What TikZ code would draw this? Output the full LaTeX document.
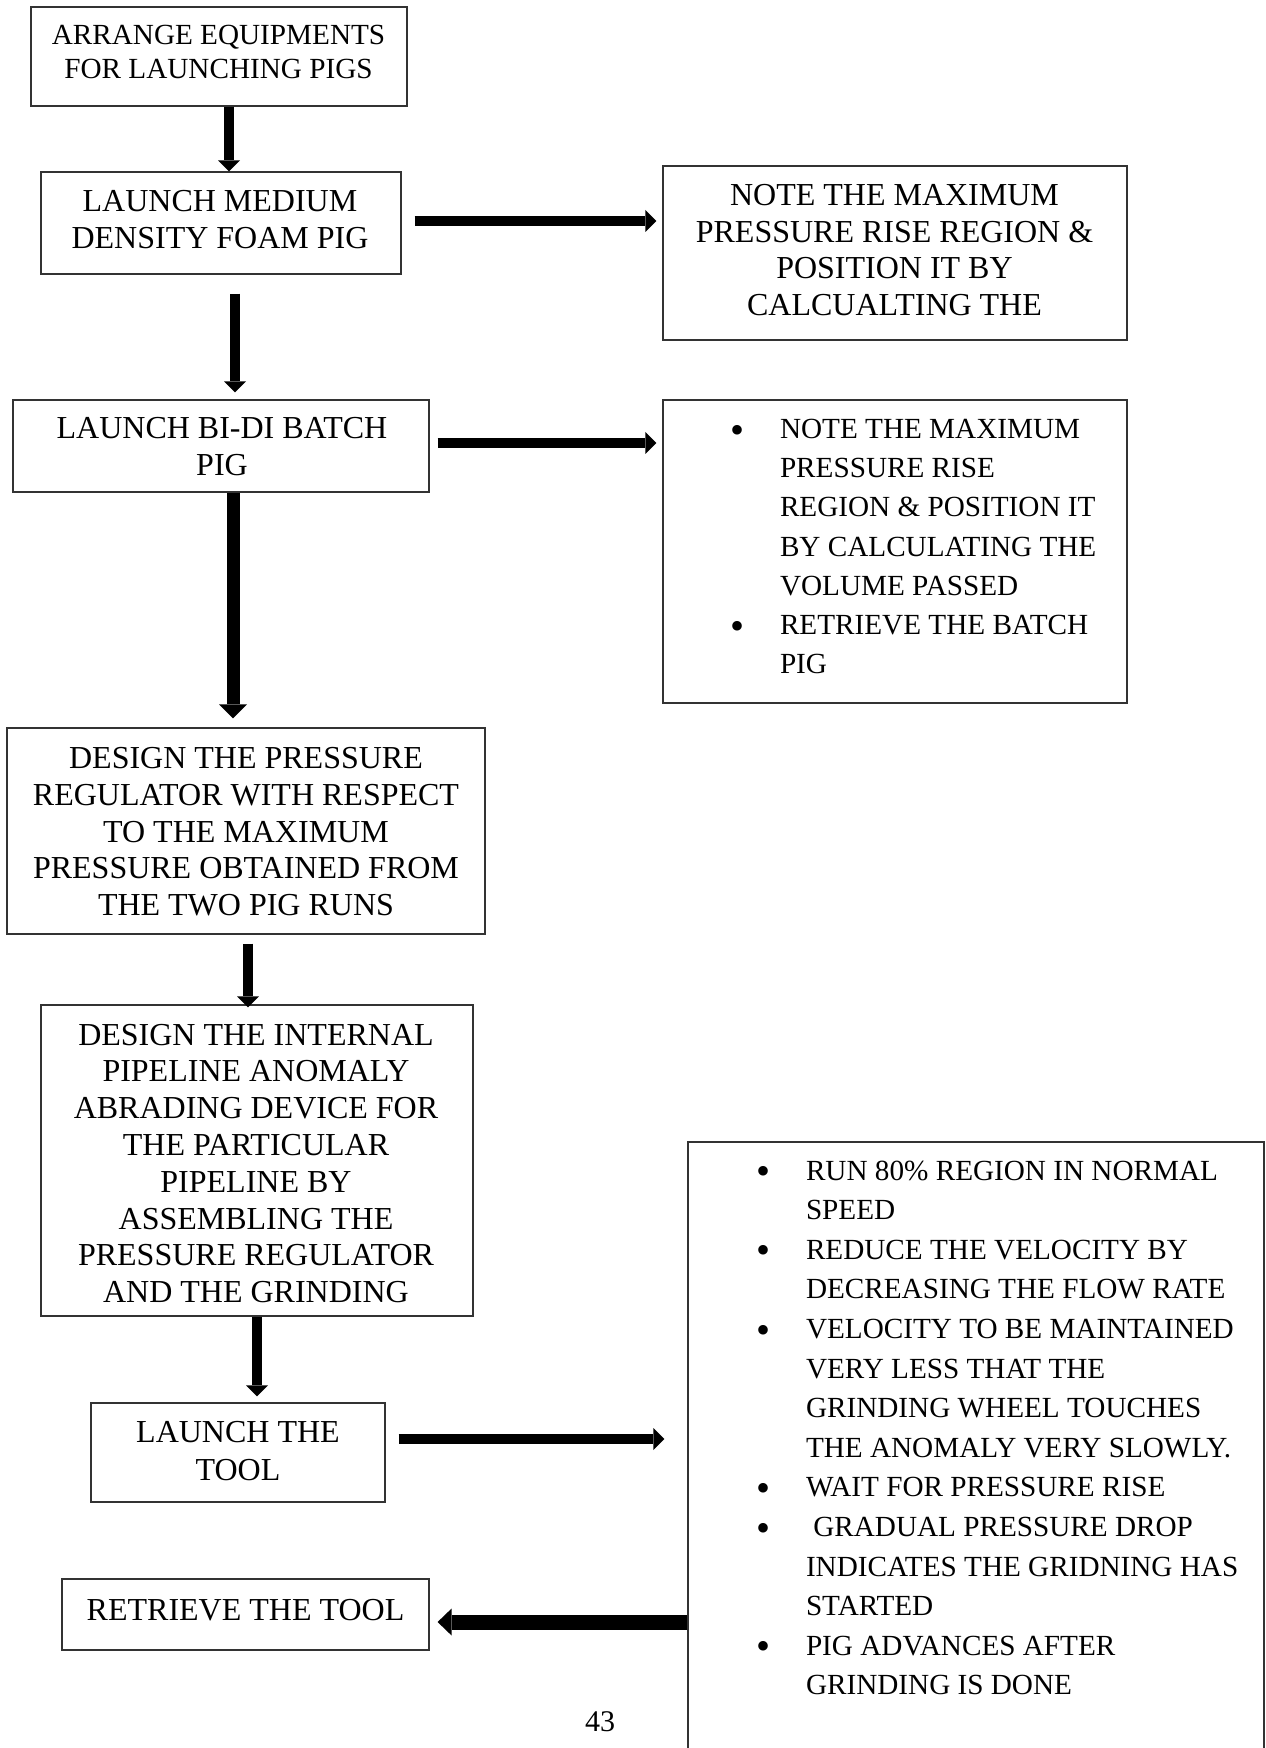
\documentclass[tikz,border=0pt]{standalone}
\usepackage{fontspec}
\setmainfont{Liberation Serif}
\usetikzlibrary{arrows.meta}
\newcommand{\mybul}{\raisebox{-2.3pt}{\fontsize{20}{20}\selectfont\textbullet}}
\newcommand{\mybi}{\makebox[24.8pt][l]{\mybul}}
\newcommand{\mylines}[1]{\begin{tabular}[t]{@{}c@{}}#1\end{tabular}}
\newcommand{\mylist}[1]{\begin{tabular}[t]{@{}l@{}l@{}}#1\end{tabular}}
\begin{document}
\begin{tikzpicture}[x=0.5pt,y=-0.5pt,
  box/.style={draw=black!80, line width=0.6pt, inner sep=0pt},
  txt/.style={inner sep=0pt, anchor=base, font=\fontsize{16}{18.4}\selectfont},
  lst/.style={inner sep=0pt, anchor=base west, font=\fontsize{14.6}{19.6}\selectfont},
  arr/.style={line width=5pt, -{Triangle[width=11pt,length=5.5pt,line width=0pt]}},
  arrm/.style={line width=6.5pt, -{Triangle[width=14pt,length=7pt,line width=0pt]}},
  arrb/.style={line width=7.5pt, -{Triangle[width=13.5pt,length=7pt,line width=0pt]}}]
\useasboundingbox (0,0) rectangle (1265,1748);

% boxes
\node[box, minimum width=188pt, minimum height=49.5pt] (b1) at (219,56.5) {};
\node[box, minimum width=180pt, minimum height=51pt] (b2) at (221,223) {};
\node[box, minimum width=232pt, minimum height=87pt] (b3) at (895,253) {};
\node[box, minimum width=208pt, minimum height=46pt] (b4) at (221,446) {};
\node[box, minimum width=232pt, minimum height=151.5pt] (b5) at (895,551.5) {};
\node[box, minimum width=239pt, minimum height=103pt] (b6) at (246,831) {};
\node[box, minimum width=216pt, minimum height=155.5pt] (b7) at (257,1160.5) {};
\node[box, minimum width=147pt, minimum height=49.5pt] (b8) at (238,1452.5) {};
\node[box, minimum width=183.5pt, minimum height=35.5pt] (b9) at (245.5,1614.5) {};
\node[box, minimum width=288pt, minimum height=329pt] (b10) at (976,1471) {};

% texts
\node[txt, font=\fontsize{14.6}{17}\selectfont] (t1) at (218.5,45) {\mylines{ARRANGE EQUIPMENTS\\FOR LAUNCHING PIGS}};
\node[txt, font=\fontsize{16}{18.3}\selectfont] (t2) at (220,211.7) {\mylines{LAUNCH MEDIUM\\DENSITY FOAM PIG}};
\node[txt] (t3) at (894.5,205.4) {\mylines{NOTE THE MAXIMUM\\PRESSURE RISE REGION \&\\POSITION IT BY\\CALCUALTING THE}};
\node[txt, font=\fontsize{16}{18.5}\selectfont] (t4) at (222,439) {\mylines{LAUNCH BI-DI BATCH\\PIG}};
\node[lst] (t5) at (730,438.6) {\mylist{\mybi & NOTE THE MAXIMUM\\
 & PRESSURE RISE\\
 & REGION \& POSITION IT\\
 & BY CALCULATING THE\\
 & VOLUME PASSED\\
 \mybi & RETRIEVE THE BATCH\\
 & PIG}};
\node[txt] (t6) at (246,768.5) {\mylines{DESIGN THE PRESSURE\\REGULATOR WITH RESPECT\\TO THE MAXIMUM\\PRESSURE OBTAINED FROM\\THE TWO PIG RUNS}};
\node[txt] (t7) at (256,1045) {\mylines{DESIGN THE INTERNAL\\PIPELINE ANOMALY\\ABRADING DEVICE FOR\\THE PARTICULAR\\PIPELINE BY\\ASSEMBLING THE\\PRESSURE REGULATOR\\AND THE GRINDING}};
\node[txt, font=\fontsize{16}{18.65}\selectfont] (t8) at (238,1442.7) {\mylines{LAUNCH THE\\TOOL}};
\node[txt] (t9) at (245.5,1620) {RETRIEVE THE TOOL};
\node[lst, font=\fontsize{14.6}{19.8}\selectfont] (t10) at (756,1180) {\mylist{\mybi & RUN 80\% REGION IN NORMAL\\
 & SPEED\\
 \mybi & REDUCE THE VELOCITY BY\\
 & DECREASING THE FLOW RATE\\
 \mybi & VELOCITY TO BE MAINTAINED\\
 & VERY LESS THAT THE\\
 & GRINDING WHEEL TOUCHES\\
 & THE ANOMALY VERY SLOWLY.\\
 \mybi & WAIT FOR PRESSURE RISE\\
 \mybi & \hspace*{0.25em}GRADUAL PRESSURE DROP\\
 & INDICATES THE GRIDNING HAS\\
 & STARTED\\
 \mybi & PIG ADVANCES AFTER\\
 & GRINDING IS DONE}};
\node[txt, font=\fontsize{15}{18}\selectfont] (pg) at (600,1731) {43};

% connectors
\draw[arr] (b1.south -| 229,0) -- (b2.north -| 229,0);
\draw[arr, shorten <=6.5pt, shorten >=3pt] (b2.east |- 0,221) -- (b3.west |- 0,221);
\draw[arr, shorten <=9.5pt, shorten >=3.5pt] (b2.south -| 235,0) -- (b4.north -| 235,0);
\draw[arr, shorten <=4pt, shorten >=3pt] (b4.east |- 0,443) -- (b5.west |- 0,443);
\draw[arrm, shorten >=4.5pt] (b4.south -| 233,0) -- (b6.north -| 233,0);
\draw[arr, shorten <=4.5pt, shorten >=-1.5pt] (b6.south -| 248,0) -- (b7.north -| 248,0);
\draw[arr, shorten >=3pt] (b7.south -| 257,0) -- (b8.north -| 257,0);
\draw[arr, shorten <=6.5pt, shorten >=11.5pt] (b8.east |- 0,1439) -- (b10.west |- 0,1439);
\draw[arrb, shorten >=4pt] (b10.west |- 0,1622) -- (b9.east |- 0,1622);
\end{tikzpicture}
\end{document}
